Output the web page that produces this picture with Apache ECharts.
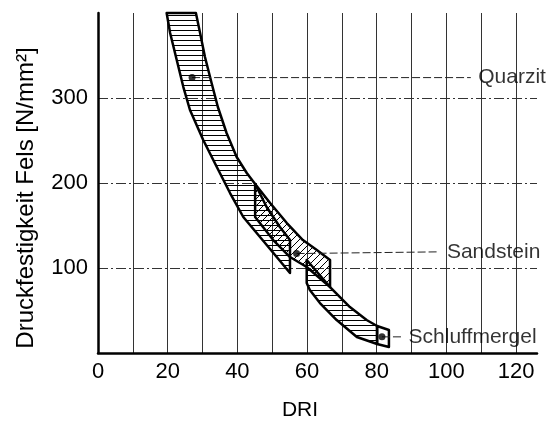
<!DOCTYPE html>
<html>
<head>
<meta charset="utf-8">
<script src="https://cdn.jsdelivr.net/npm/echarts@6/dist/echarts.min.js"></script>
<style>
  html, body { margin: 0; background: #fff; }
  #chart { width: 557px; height: 426px; }
</style>
</head>
<body>
<div id="chart"></div>
<script>
// Gesteine, Messpunkte und Beschriftung
const names = ['Quarzit', 'Sandstein', 'Schluffmergel']
const pointX = [27, 57, 81.5]
const pointY = [324, 117, 19]
const labelX = [109, 100, 89]
const labelY = [324, 119, 19]
const xTicks = [0, 20, 40, 60, 80, 100, 120]
const yTicks = [100, 200, 300]

// Streubaender [DRI, Druckfestigkeit]
const quarzitBand = [
  [28.1, 400], [29.3, 376.5], [30.7, 348.2], [32.6, 317.6], [34.4, 289.4],
  [36.9, 258.8], [39.8, 230.6], [42.7, 211.8], [45.1, 198.8], [48.4, 171.8],
  [52.2, 148.2], [55.1, 132.9], [55.1, 94.1], [51.3, 112.9], [46.5, 136.5],
  [41.7, 160], [37.9, 188.2], [34.1, 218.8], [30.2, 250.6], [26.4, 285.9],
  [24.5, 312.9], [22.6, 344.7], [20.7, 376.5], [19.7, 400]
]
const sandsteinBand = [
  [45.1, 198.8], [49.4, 176.5], [54.2, 152.9], [58.8, 132.9], [62.8, 121.2],
  [66.6, 109.4], [66.6, 77.6], [59.9, 101.2], [55.1, 112.9], [50.3, 132.9],
  [45.1, 160]
]
const schluffBand = [
  [59.9, 109.4], [66.6, 77.6], [72.3, 54.1], [77.1, 38.8], [80.1, 31.8],
  [80.1, 10.6], [74.3, 18.8], [68.5, 38.8], [63.7, 58.8], [60.8, 74.1],
  [59.9, 82.4]
]
const schluffBox = [[80.1, 31.8], [83.5, 27.1], [83.5, 7.1], [80.1, 10.6]]

const font = 'Liberation Sans, Arial, sans-serif'

// Schraffur als Muster
function hatch(kind) {
  let c = document.createElement('canvas')
  let ctx = c.getContext('2d')
  ctx.strokeStyle = '#111'
  ctx.lineWidth = 1
  if (kind == 'h') {
    c.width = 8; c.height = 5
    ctx.beginPath(); ctx.moveTo(0, 0.5); ctx.lineTo(8, 0.5); ctx.stroke()
  } else {
    c.width = 7; c.height = 7
    ctx.beginPath()
    ctx.moveTo(0, 7); ctx.lineTo(7, 0)
    ctx.moveTo(-1, 1); ctx.lineTo(1, -1)
    ctx.moveTo(6, 8); ctx.lineTo(8, 6)
    ctx.stroke()
  }
  return { image: c, repeat: 'repeat' }
}

function bandSeries(band, fill, z) {
  return {
    type: 'custom',
    silent: true,
    z: z,
    data: [0],
    renderItem: (params, api) => ({
      type: 'polygon',
      shape: { points: band.map(p => api.coord(p)) },
      style: { fill: fill, stroke: '#000', lineWidth: 2.5, lineJoin: 'round' }
    })
  }
}

const chart = echarts.init(document.getElementById('chart'))
let option = {
  animation: false,
  backgroundColor: '#fff',
  textStyle: { fontFamily: font },
  grid: { left: 98, right: 20, top: 13, bottom: 73 },
  xAxis: {
    type: 'value', min: 0, max: 126, interval: 10,
    axisLine: { lineStyle: { color: '#000', width: 2.5 } },
    axisTick: { show: false },
    axisLabel: {
      color: '#000', fontSize: 22, margin: 8, fontFamily: font,
      showMaxLabel: false,
      formatter: v => xTicks.includes(v) ? String(v) : ''
    },
    splitLine: { show: true, showMaxLine: false, lineStyle: { color: '#333', width: 1 } }
  },
  yAxis: {
    type: 'value', min: 0, max: 400, interval: 100,
    axisLine: { show: true, lineStyle: { color: '#000', width: 2.5 } },
    axisTick: { show: false },
    axisLabel: {
      color: '#000', fontSize: 22, margin: 10, fontFamily: font,
      formatter: v => yTicks.includes(v) ? String(v) : ''
    },
    splitLine: {
      show: true, showMinLine: false, showMaxLine: false,
      lineStyle: { color: '#333', width: 1, type: [10, 3, 2, 3] }
    }
  },
  graphic: [
    {
      type: 'text', x: 26, y: 198, rotation: Math.PI / 2,
      style: {
        text: 'Druckfestigkeit Fels [N/mm²]', font: '24px ' + font,
        fill: '#000', align: 'center', verticalAlign: 'middle'
      }
    },
    {
      type: 'text', x: 300, y: 410,
      style: {
        text: 'DRI', font: '21px ' + font,
        fill: '#000', align: 'center', verticalAlign: 'middle'
      }
    }
  ],
  series: [
    bandSeries(quarzitBand, hatch('h'), 2),
    bandSeries(sandsteinBand, hatch('d'), 3),
    bandSeries(schluffBand, hatch('h'), 4),
    bandSeries(schluffBox, 'rgba(255,255,255,0)', 4)
  ]
}

// Hinweislinien zu den Beschriftungen
names.forEach((n, i) => {
  option.series.push({
    type: 'line',
    silent: true,
    z: 5,
    symbol: 'none',
    data: [[pointX[i], pointY[i]], [labelX[i] - 2, labelY[i]]],
    lineStyle: { color: '#222', width: 1, type: [8, 3] }
  })
})

option.series.push({
  type: 'scatter',
  silent: true,
  z: 6,
  symbolSize: 7,
  itemStyle: { color: '#000' },
  data: pointX.map((x, i) => [x, pointY[i]])
})

option.series.push({
  type: 'scatter',
  silent: true,
  z: 6,
  symbolSize: 1,
  itemStyle: { color: 'rgba(0,0,0,0)' },
  label: {
    show: true, position: 'right', distance: 0,
    formatter: '{b}', color: '#000', fontSize: 21, fontFamily: font
  },
  data: names.map((n, i) => ({ name: n, value: [labelX[i], labelY[i]] }))
})

chart.setOption(option)
</script>
</body>
</html>
